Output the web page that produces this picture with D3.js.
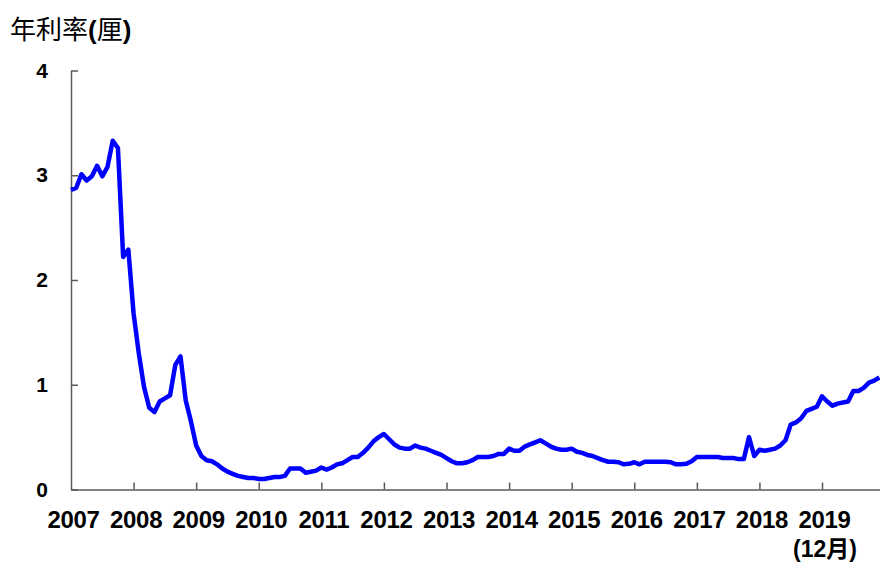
<!DOCTYPE html>
<html>
<head>
<meta charset="utf-8">
<script src="https://cdn.jsdelivr.net/npm/d3@7"></script>
<style>
  body { margin: 0; background: #fff; }
  svg { display: block; }
</style>
</head>
<body>
<svg></svg>
<script>
let svgWidth = 880
let svgHeight = 563

// monthly rates, Jan 2007 .. Dec 2019
let rates = [
  2.86, 2.88, 3.01, 2.95, 2.99, 3.09, 2.99, 3.08, 3.33, 3.26, 2.22, 2.29,
  1.68, 1.30, 0.98, 0.78, 0.74, 0.84, 0.87, 0.90, 1.19, 1.27, 0.85, 0.65,
  0.42, 0.32, 0.28, 0.27, 0.24, 0.20, 0.17, 0.15, 0.13, 0.12, 0.11, 0.11,
  0.10, 0.10, 0.11, 0.12, 0.12, 0.13, 0.20, 0.20, 0.20, 0.16, 0.17, 0.18,
  0.21, 0.19, 0.21, 0.24, 0.25, 0.28, 0.31, 0.31, 0.35, 0.40, 0.46, 0.50,
  0.53, 0.48, 0.43, 0.40, 0.39, 0.39, 0.42, 0.40, 0.39, 0.37, 0.35, 0.33,
  0.30, 0.27, 0.25, 0.25, 0.26, 0.28, 0.31, 0.31, 0.31, 0.32, 0.34, 0.34,
  0.39, 0.37, 0.37, 0.41, 0.43, 0.45, 0.47, 0.44, 0.41, 0.39, 0.38, 0.38,
  0.39, 0.36, 0.35, 0.33, 0.32, 0.30, 0.28, 0.265, 0.265, 0.26, 0.24, 0.245,
  0.26, 0.24, 0.265, 0.265, 0.265, 0.265, 0.265, 0.26, 0.24, 0.24, 0.245, 0.27,
  0.31, 0.31, 0.31, 0.31, 0.31, 0.30, 0.30, 0.30, 0.29, 0.29, 0.50, 0.32,
  0.38, 0.37, 0.38, 0.39, 0.42, 0.47, 0.62, 0.64, 0.68, 0.75, 0.77, 0.79,
  0.89, 0.84, 0.80, 0.82, 0.83, 0.84, 0.94, 0.94, 0.97, 1.02, 1.04, 1.07
]
let startYear = 2007
let yearTicks = [2007, 2008, 2009, 2010, 2011, 2012, 2013, 2014, 2015, 2016, 2017, 2018, 2019]
let y_data = [0, 1, 2, 3, 4]
let yTitle = '年利率'
let yUnit = '厘'
let lastNote = '(12月)'

let svg = d3.select('svg').attr('width', svgWidth).attr('height', svgHeight)

let xScale = d3.scaleLinear().domain([2007, 2020]).range([71, 884.6])
let yScale = d3.scaleLinear().domain([0, 4]).range([489.5, 70.5])

let axisColor = '#595959'
let numFont = '"Liberation Sans", Arial, sans-serif'

// y axis, ticks pointing inward
let yAxis = d3.axisLeft(yScale).tickValues(y_data).tickSize(-7).tickSizeOuter(0)
  .tickPadding(23).tickFormat(d3.format('d'))
let gy = svg.append('g').attr('transform', 'translate(71,0)').call(yAxis)
gy.select('.domain').attr('stroke', axisColor).attr('stroke-width', 1.5)
gy.selectAll('.tick line').attr('stroke', axisColor).attr('stroke-width', 1.5)
gy.selectAll('.tick text')
  .attr('font-family', numFont).attr('font-weight', 'bold').attr('font-size', 21)
  .attr('fill', '#000')

// x axis
let xAxis = d3.axisBottom(xScale).tickValues(yearTicks).tickSize(-7).tickSizeOuter(0)
  .tickPadding(21).tickFormat(d3.format('d'))
let gx = svg.append('g').attr('transform', 'translate(0,' + yScale(0) + ')').call(xAxis)
gx.select('.domain').attr('stroke', axisColor).attr('stroke-width', 1.5)
gx.selectAll('.tick line').attr('stroke', axisColor).attr('stroke-width', 1.5)
  .filter(d => d === 2007).remove()
gx.selectAll('.tick text')
  .attr('font-family', numFont).attr('font-weight', 'bold').attr('font-size', 24)
  .attr('letter-spacing', -0.3)
  .attr('fill', '#000').attr('dx', 2)

svg.append('text')
  .attr('x', xScale(2019) + 3)
  .attr('y', 557)
  .attr('text-anchor', 'middle')
  .attr('font-family', '"Liberation Sans", "Noto Sans CJK TC", sans-serif')
  .attr('font-weight', 'bold')
  .attr('font-size', 23)
  .text(lastNote)

// y title
let title = svg.append('text')
  .attr('x', 10)
  .attr('y', 39)
  .attr('font-size', 26)
  .attr('font-family', '"Noto Sans CJK TC", sans-serif')
title.append('tspan').text(yTitle)
title.append('tspan').attr('font-family', numFont).attr('font-weight', 'bold').text('(')
title.append('tspan').text(yUnit)
title.append('tspan').attr('font-family', numFont).attr('font-weight', 'bold').text(')')

// rate line
let line = d3.line()
  .x((d, i) => xScale(startYear + i / 12))
  .y(d => yScale(d))

svg.append('path')
  .datum(rates)
  .attr('fill', 'none')
  .attr('stroke', '#0000ff')
  .attr('stroke-width', 4.5)
  .attr('stroke-linejoin', 'round')
  .attr('d', line)
</script>
</body>
</html>
